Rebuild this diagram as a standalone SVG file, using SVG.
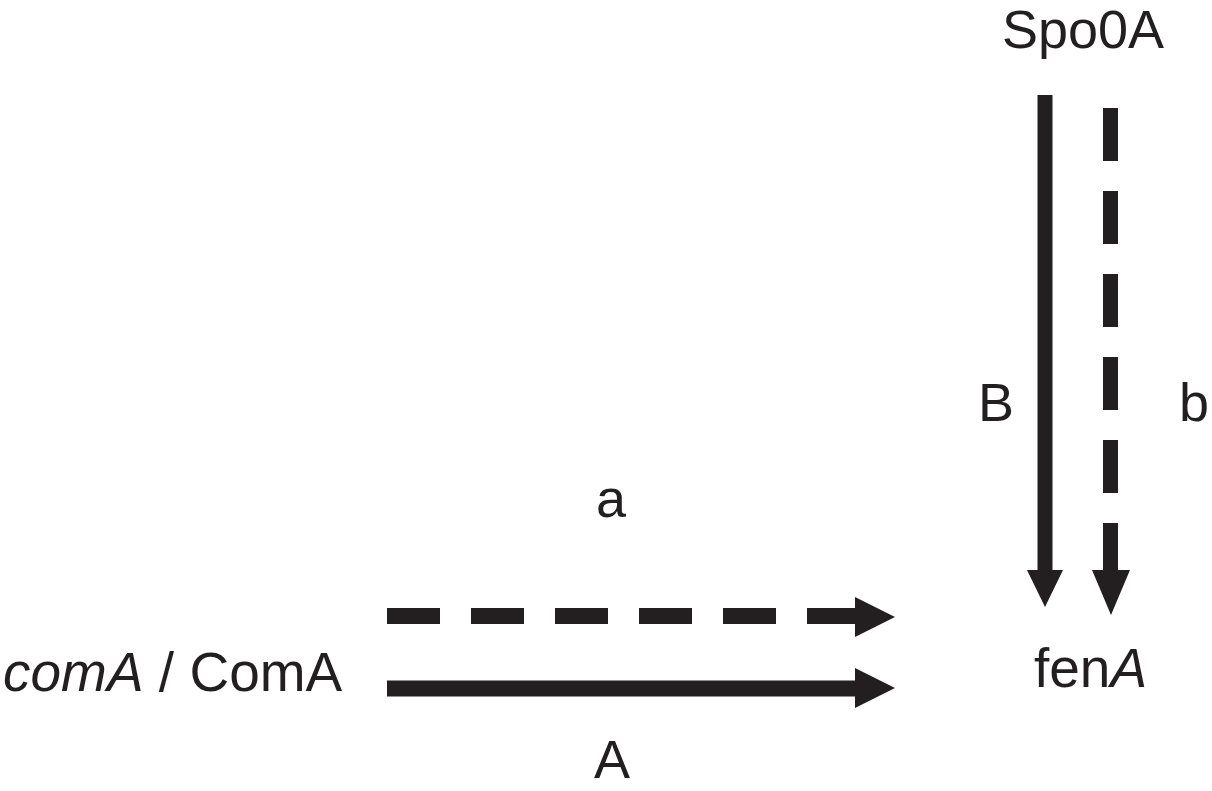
<svg xmlns="http://www.w3.org/2000/svg" width="1212" height="791" viewBox="0 0 1212 791">
<style>
text{font-family:"Liberation Sans",Arial,sans-serif;font-size:54px;fill:#231f20}
.big{font-size:55px}
.shaft{stroke:#231f20;stroke-width:15;fill:none}
.dash{stroke-dasharray:53 30}
.head{fill:#231f20}
</style>
<rect width="1212" height="791" fill="#fff"/>
<g id="node-spo0a"><text x="1002" y="48">Spo0A</text></g>
<g id="node-fena"><text class="big" x="1034" y="687">fen<tspan font-style="italic">A</tspan></text></g>
<g id="node-coma"><text class="big" x="3" y="691"><tspan font-style="italic">comA</tspan> / ComA</text></g>
<g id="connectors">
<line class="shaft" x1="1045" y1="95" x2="1045" y2="572"/>
<polygon class="head" points="1027,570 1045,607 1063,570"/>
<line class="shaft dash" x1="1110.5" y1="108" x2="1110.5" y2="572"/>
<polygon class="head" points="1092,570 1111,615 1130,570"/>
<line class="shaft dash" x1="387" y1="616" x2="857" y2="616" style="stroke-dasharray:53 31;stroke-width:16"/>
<polygon class="head" points="855,597 895,617 855,637"/>
<line class="shaft" x1="387" y1="688.5" x2="857" y2="688.5" style="stroke-width:16"/>
<polygon class="head" points="855,668 895,688 855,708"/>
<text x="978" y="421">B</text>
<text x="1179" y="421">b</text>
<text x="596" y="517">a</text>
<text x="594" y="778">A</text>
</g>
</svg>
